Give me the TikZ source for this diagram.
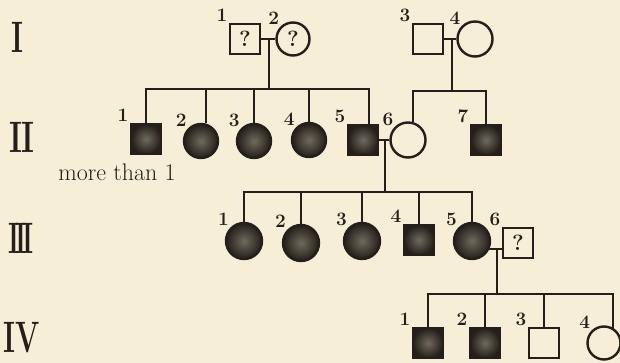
\documentclass[tikz,border=0pt]{standalone}
\usepackage{tikz}
\usepackage{xcolor}
\usepackage{graphicx}

\definecolor{paper}{RGB}{246,238,214}
\definecolor{ink}{RGB}{36,31,26}
\definecolor{mottle}{RGB}{112,105,94}

\begin{document}
\begin{tikzpicture}[x=1pt, y=-1pt, line width=2pt, color=ink]
\tikzset{
  male/.style={draw, rectangle, minimum size=30pt, inner sep=0pt, line width=2.4pt,
    font=\fontsize{22}{22}\selectfont\bfseries},
  female/.style={draw, circle, minimum size=34pt, inner sep=0pt, line width=2.4pt,
    font=\fontsize{22}{22}\selectfont\bfseries},
  aff/.style={shading=radial, inner color=mottle, outer color=ink},
  num/.style={font=\fontsize{19}{19}\selectfont\bfseries, inner sep=0.5pt},
  gen/.style={font=\fontsize{44}{44}\selectfont\bfseries, inner sep=0pt},
  note/.style={font=\fontsize{24}{24}\selectfont, inner sep=0pt}
}
\useasboundingbox (0,0) rectangle (620,363);
\fill[paper] (0,0) rectangle (620,363);

% generations
\node[gen] (gI) at (17,37) {\scalebox{0.65}[1]{I}};
\node[gen] (gII) at (22,137) {\scalebox{0.7}[1]{I\kern-2pt I}};
\node[gen] (gIII) at (21,238) {\scalebox{0.6}[1]{I\kern-6pt I\kern-6pt I}};
\node[gen] (gIV) at (22,338) {\scalebox{0.65}[1]{IV}};

% I
\node[male, label={[num]north west:1}] (I1) at (245,39) {?};
\node[female, minimum size=33pt, label={[num]north west:2}] (I2) at (293,39) {?};
\node[male, label={[num]north west:3}] (I3) at (428,39) {};
\node[female, minimum size=35pt, label={[num]north west:4}] (I4) at (475,39) {};
\coordinate (s1) at (269,89);
\coordinate (s2) at (452,91);

% II
\node[male, aff, label={[num]north west:1}] (II1) at (146,139) {};
\node[female, aff, label={[num]north west:2}] (II2) at (201,141) {};
\node[female, aff, label={[num]north west:3}] (II3) at (254,141) {};
\node[female, aff, label={[num]north west:4}] (II4) at (309,140) {};
\node[male, aff, label={[num]north west:5}] (II5) at (363,140) {};
\node[female, minimum size=35pt, label={[num]north west:6}] (II6) at (408,140) {};
\node[male, aff, label={[num]north west:7}] (II7) at (486,140) {};
\node[note] (more) at (117,172) {more than 1};
\coordinate (s3) at (385,192);

% III
\node[female, aff, minimum size=36pt, label={[num]north west:1}] (III1) at (244,241) {};
\node[female, aff, minimum size=36pt, label={[num]north west:2}] (III2) at (301,243) {};
\node[female, aff, minimum size=36pt, label={[num]north west:3}] (III3) at (362,241) {};
\node[male, aff, label={[num]north west:4}] (III4) at (419,240) {};
\node[female, aff, minimum size=36pt, label={[num]north west:5}] (III5) at (472,241) {};
\node[male, label={[num]north west:6}] (III6) at (518,243) {?};
\coordinate (s4) at (497,294);

% IV
\node[male, aff, label={[num]north west:1}] (IV1) at (428,343) {};
\node[male, aff, label={[num]north west:2}] (IV2) at (485,343) {};
\node[male, label={[num]north west:3}] (IV3) at (544,343) {};
\node[female, minimum size=33pt, label={[num]north west:4}] (IV4) at (604,343) {};

% lines of descent
\draw (I1) -- (I2);
\draw (s1 |- I1) -- (s1);
\foreach \c in {II1.north,II2.75,II3.north,II4.north,II5.70}
  \draw (\c) |- (s1);

\draw (I3) -- (I4);
\draw (s2 |- I3) -- (s2);
\foreach \c in {II6.75,II7.north}
  \draw (\c) |- (s2);

\draw (II5) -- (II6);
\draw (s3 |- II5) -- (s3);
\foreach \c in {III1.north,III2.north,III3.north,III4.north,III5.north}
  \draw (\c) |- (s3);

\draw (III5.-25) -- (III5.-25 -| III6.west);
\draw (s4 |- III5.-25) -- (s4);
\foreach \c in {IV1.north,IV2.north,IV3.north,IV4.60}
  \draw (\c) |- (s4);
\end{tikzpicture}
\end{document}
